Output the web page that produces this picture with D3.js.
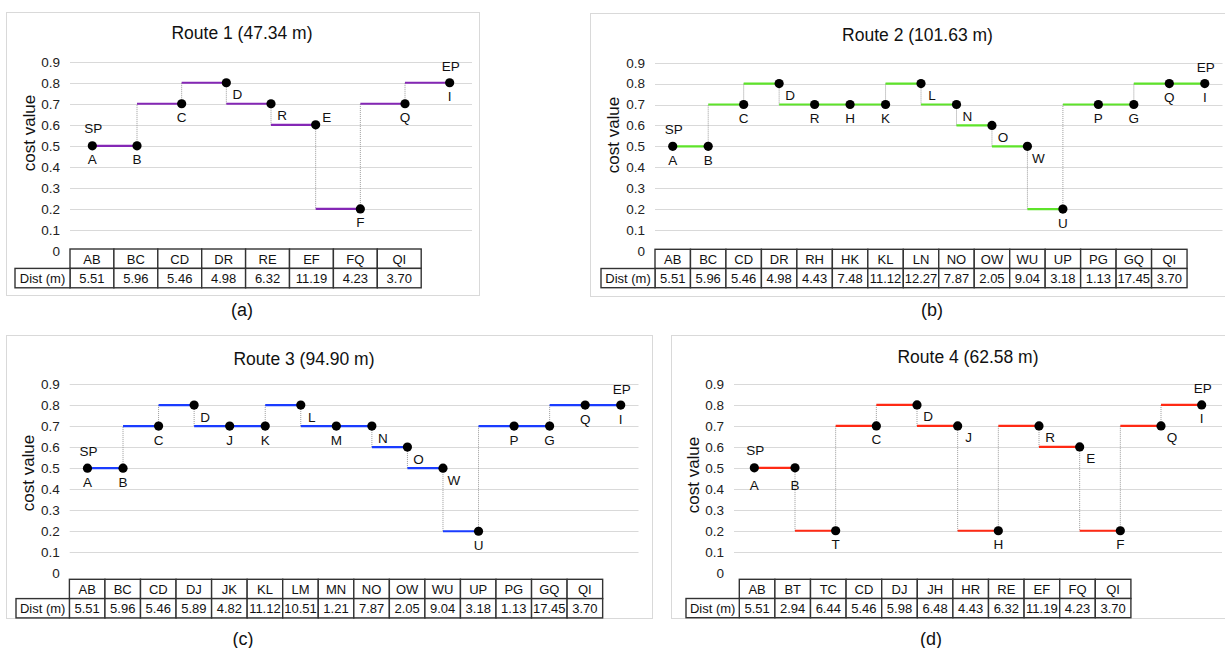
<!DOCTYPE html>
<html>
<head>
<meta charset="utf-8">
<script src="https://cdn.jsdelivr.net/npm/d3@7"></script>
<style>
  html, body { margin: 0; padding: 0; background: #ffffff; }
  svg { display: block; font-family: "Liberation Sans", Arial, sans-serif; }
</style>
</head>
<body>
<svg id="chart" width="1225" height="648"></svg>
<script>
// ---------------- DATA ----------------
const yTicks = [0, 0.1, 0.2, 0.3, 0.4, 0.5, 0.6, 0.7, 0.8, 0.9];
const yAxisTitle = "cost value";
const tableRowLabel = "Dist (m)";
const startLabel = "SP";
const endLabel = "EP";

const route1Title = "Route 1 (47.34 m)";
const route1Points = ["A", "B", "C", "D", "R", "E", "F", "Q", "I"];
const route1Values = [0.5, 0.5, 0.7, 0.8, 0.7, 0.6, 0.2, 0.7, 0.8];
const route1Segments = ["AB", "BC", "CD", "DR", "RE", "EF", "FQ", "QI"];
const route1Dist = ["5.51", "5.96", "5.46", "4.98", "6.32", "11.19", "4.23", "3.70"];

const route2Title = "Route 2 (101.63 m)";
const route2Points = ["A", "B", "C", "D", "R", "H", "K", "L", "N", "O", "W", "U", "P", "G", "Q", "I"];
const route2Values = [0.5, 0.5, 0.7, 0.8, 0.7, 0.7, 0.7, 0.8, 0.7, 0.6, 0.5, 0.2, 0.7, 0.7, 0.8, 0.8];
const route2Segments = ["AB", "BC", "CD", "DR", "RH", "HK", "KL", "LN", "NO", "OW", "WU", "UP", "PG", "GQ", "QI"];
const route2Dist = ["5.51", "5.96", "5.46", "4.98", "4.43", "7.48", "11.12", "12.27", "7.87", "2.05", "9.04", "3.18", "1.13", "17.45", "3.70"];

const route3Title = "Route 3 (94.90 m)";
const route3Points = ["A", "B", "C", "D", "J", "K", "L", "M", "N", "O", "W", "U", "P", "G", "Q", "I"];
const route3Values = [0.5, 0.5, 0.7, 0.8, 0.7, 0.7, 0.8, 0.7, 0.7, 0.6, 0.5, 0.2, 0.7, 0.7, 0.8, 0.8];
const route3Segments = ["AB", "BC", "CD", "DJ", "JK", "KL", "LM", "MN", "NO", "OW", "WU", "UP", "PG", "GQ", "QI"];
const route3Dist = ["5.51", "5.96", "5.46", "5.89", "4.82", "11.12", "10.51", "1.21", "7.87", "2.05", "9.04", "3.18", "1.13", "17.45", "3.70"];

const route4Title = "Route 4 (62.58 m)";
const route4Points = ["A", "B", "T", "C", "D", "J", "H", "R", "E", "F", "Q", "I"];
const route4Values = [0.5, 0.5, 0.2, 0.7, 0.8, 0.7, 0.2, 0.7, 0.6, 0.2, 0.7, 0.8];
const route4Segments = ["AB", "BT", "TC", "CD", "DJ", "JH", "HR", "RE", "EF", "FQ", "QI"];
const route4Dist = ["5.51", "2.94", "6.44", "5.46", "5.98", "6.48", "4.43", "6.32", "11.19", "4.23", "3.70"];

const captions = ["(a)", "(b)", "(c)", "(d)"];

// ---------------- LAYOUT / STYLE (not data) ----------------
// label placement codes: b = below, bb = further below, br = below-right, ar = above-right
const route1LabelPos = ["b", "b", "b", "br", "br", "ar", "b", "b", "b"];
const route2LabelPos = ["b", "b", "b", "br", "b", "b", "b", "br", "br", "br", "br", "b", "b", "b", "b", "b"];
const route3LabelPos = ["b", "b", "b", "br", "b", "b", "br", "b", "br", "br", "br", "b", "b", "b", "b", "b"];
const route4LabelPos = ["bb", "bb", "b", "b", "br", "br", "b", "br", "br", "b", "br", "b"];

const panels = [
  { title: route1Title, pts: route1Points, vals: route1Values, segs: route1Segments, dist: route1Dist, pos: route1LabelPos,
    color: "#8a2be2", stroke: "#8427b5",
    frame: [6, 12, 473, 283], x0: 70, x1: 472, yTop: 61.7, yZero: 251,
    titleXY: [242, 33], yTitleXY: [29, 133], capXY: [242, 310],
    tbl: { left: 70, colW: 43.9, top: 249, rowH: 19.4, labelLeft: 15 } },
  { title: route2Title, pts: route2Points, vals: route2Values, segs: route2Segments, dist: route2Dist, pos: route2LabelPos,
    stroke: "#5ee32a",
    frame: [590, 13, 660, 283], x0: 655, x1: 1222.5, yTop: 62.7, yZero: 250.9,
    titleXY: [917.5, 35], yTitleXY: [613, 135], capXY: [932, 310],
    tbl: { left: 655, colW: 35.47, top: 249.3, rowH: 19.2, labelLeft: 601 } },
  { title: route3Title, pts: route3Points, vals: route3Values, segs: route3Segments, dist: route3Dist, pos: route3LabelPos,
    stroke: "#1a3cff",
    frame: [6, 335, 646, 283], x0: 69.7, x1: 638.5, yTop: 384, yZero: 573.3,
    titleXY: [304, 359], yTitleXY: [28.6, 473], capXY: [243, 639],
    tbl: { left: 69.4, colW: 35.55, top: 579.3, rowH: 19.3, labelLeft: 16 } },
  { title: route4Title, pts: route4Points, vals: route4Values, segs: route4Segments, dist: route4Dist, pos: route4LabelPos,
    stroke: "#ff2a14",
    frame: [671, 335, 600, 283], x0: 734, x1: 1222, yTop: 384, yZero: 572.7,
    titleXY: [968, 357], yTitleXY: [693, 475], capXY: [931, 639],
    tbl: { left: 739.3, colW: 35.6, top: 579.3, rowH: 19.2, labelLeft: 686 } }
];

const labelOffsets = {
  b:  [0, 14],
  bb: [0, 18],
  br: [11, 12],
  ar: [11, -7]
};

const svg = d3.select("#chart");

panels.forEach((p, pi) => {
  const g = svg.append("g");

  // frame
  g.append("rect")
    .attr("x", p.frame[0] + 0.5).attr("y", p.frame[1] + 0.5)
    .attr("width", p.frame[2]).attr("height", p.frame[3])
    .attr("fill", "#fff").attr("stroke", "#d9d9d9").attr("stroke-width", 1);

  const x = d3.scaleBand().domain(d3.range(p.pts.length)).range([p.x0, p.x1]).padding(0);
  const cx = i => x(i) + x.bandwidth() / 2;
  const y = d3.scaleLinear().domain([0, 0.9]).range([p.yZero, p.yTop]);

  // gridlines
  g.append("g").selectAll("line")
    .data(yTicks.filter(t => t > 0))
    .join("line")
    .attr("x1", p.x0).attr("x2", p.x1)
    .attr("y1", d => Math.round(y(d)) + 0.5).attr("y2", d => Math.round(y(d)) + 0.5)
    .attr("stroke", "#d9d9d9").attr("stroke-width", 1.2);

  // y axis labels via d3 axis
  const yAxis = d3.axisLeft(y).tickValues(yTicks).tickSize(0).tickPadding(10)
    .tickFormat(d => d === 0 ? "0" : d3.format(".1f")(d));
  const ya = g.append("g").attr("transform", `translate(${p.x0},0)`).call(yAxis);
  ya.select(".domain").remove();
  ya.selectAll("text").attr("font-size", 13.5).attr("fill", "#222")
    .attr("font-family", "'Liberation Sans', Arial, sans-serif");

  // y-axis title
  g.append("text")
    .attr("transform", `translate(${p.yTitleXY[0]},${p.yTitleXY[1]}) rotate(-90)`)
    .attr("text-anchor", "middle").attr("dominant-baseline", "central")
    .attr("font-size", 17).attr("fill", "#111").text(yAxisTitle);

  // chart title
  g.append("text")
    .attr("x", p.titleXY[0]).attr("y", p.titleXY[1])
    .attr("text-anchor", "middle").attr("dominant-baseline", "central")
    .attr("font-size", 17.5).attr("fill", "#111").text(p.title);

  // vertical dotted connectors
  const vdata = d3.range(1, p.pts.length).filter(i => p.vals[i] !== p.vals[i - 1]);
  g.append("g").selectAll("line")
    .data(vdata)
    .join("line")
    .attr("x1", i => cx(i - 1)).attr("x2", i => cx(i - 1))
    .attr("y1", i => y(p.vals[i - 1])).attr("y2", i => y(p.vals[i]))
    .attr("stroke", "#9a9a9a").attr("stroke-width", 1)
    .attr("stroke-dasharray", "1,1");

  // horizontal coloured step segments
  g.append("g").selectAll("line")
    .data(d3.range(1, p.pts.length))
    .join("line")
    .attr("x1", i => cx(i - 1)).attr("x2", i => cx(i))
    .attr("y1", i => y(p.vals[i])).attr("y2", i => y(p.vals[i]))
    .attr("stroke", p.stroke).attr("stroke-width", 2.2);

  // points
  g.append("g").selectAll("circle")
    .data(p.vals)
    .join("circle")
    .attr("cx", (d, i) => cx(i)).attr("cy", d => y(d))
    .attr("r", 4.6).attr("fill", "#000");

  // point labels
  g.append("g").selectAll("text")
    .data(p.pts)
    .join("text")
    .attr("x", (d, i) => cx(i) + labelOffsets[p.pos[i]][0])
    .attr("y", (d, i) => y(p.vals[i]) + labelOffsets[p.pos[i]][1])
    .attr("text-anchor", "middle").attr("dominant-baseline", "central")
    .attr("font-size", 13.5).attr("fill", "#111").text(d => d);

  // SP / EP
  const last = p.pts.length - 1;
  g.append("text").attr("x", cx(0) + 1).attr("y", y(p.vals[0]) - 17)
    .attr("text-anchor", "middle").attr("dominant-baseline", "central")
    .attr("font-size", 13.5).attr("fill", "#111").text(startLabel);
  g.append("text").attr("x", cx(last) + 1).attr("y", y(p.vals[last]) - 16)
    .attr("text-anchor", "middle").attr("dominant-baseline", "central")
    .attr("font-size", 13.5).attr("fill", "#111").text(endLabel);

  // data table
  const t = p.tbl;
  const tg = g.append("g");
  const n = p.segs.length;
  // header row cells
  tg.selectAll("rect.h").data(p.segs).join("rect").attr("class", "h")
    .attr("x", (d, i) => t.left + i * t.colW).attr("y", t.top)
    .attr("width", t.colW).attr("height", t.rowH)
    .attr("fill", "#fff").attr("stroke", "#333").attr("stroke-width", 1.4);
  tg.selectAll("rect.v").data(p.dist).join("rect").attr("class", "v")
    .attr("x", (d, i) => t.left + i * t.colW).attr("y", t.top + t.rowH)
    .attr("width", t.colW).attr("height", t.rowH)
    .attr("fill", "#fff").attr("stroke", "#333").attr("stroke-width", 1.4);
  tg.append("rect")
    .attr("x", t.labelLeft).attr("y", t.top + t.rowH)
    .attr("width", t.left - t.labelLeft).attr("height", t.rowH)
    .attr("fill", "#fff").attr("stroke", "#333").attr("stroke-width", 1.4);
  tg.selectAll("text.h").data(p.segs).join("text").attr("class", "h")
    .attr("x", (d, i) => t.left + (i + 0.5) * t.colW).attr("y", t.top + t.rowH / 2 + 0.5)
    .attr("text-anchor", "middle").attr("dominant-baseline", "central")
    .attr("font-size", 13).attr("fill", "#111").text(d => d);
  tg.selectAll("text.v").data(p.dist).join("text").attr("class", "v")
    .attr("x", (d, i) => t.left + (i + 0.5) * t.colW).attr("y", t.top + t.rowH * 1.5 + 0.5)
    .attr("text-anchor", "middle").attr("dominant-baseline", "central")
    .attr("font-size", 13).attr("fill", "#111").text(d => d);
  tg.append("text")
    .attr("x", (t.labelLeft + t.left) / 2).attr("y", t.top + t.rowH * 1.5 + 0.5)
    .attr("text-anchor", "middle").attr("dominant-baseline", "central")
    .attr("font-size", 13).attr("fill", "#111").text(tableRowLabel);

  // caption
  svg.append("text")
    .attr("x", p.capXY[0]).attr("y", p.capXY[1])
    .attr("text-anchor", "middle").attr("dominant-baseline", "central")
    .attr("font-size", 18).attr("fill", "#111").text(captions[pi]);
});
</script>
</body>
</html>
